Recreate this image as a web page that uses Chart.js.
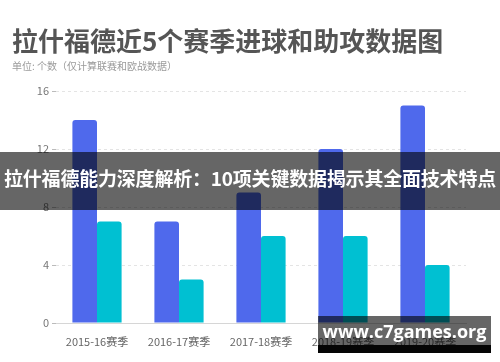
<!DOCTYPE html>
<html>
<head>
<meta charset="utf-8">
<script src="https://cdn.jsdelivr.net/npm/chart.js@4.4.1/dist/chart.umd.min.js"></script>
<style>
  body { margin: 0; background: #fff; font-family: "Noto Sans CJK SC", "Noto Sans", sans-serif; }
  #wrap { position: relative; width: 500px; height: 362px; overflow: hidden; }
  #chart { position: absolute; left: 0; top: 0; }
  #title { position: absolute; left: 12px; top: 22px; font-size: 26px; font-weight: bold; color: #555; line-height: 36px; white-space: nowrap; }
  #sub { position: absolute; left: 12px; top: 59px; font-size: 10px; color: #9a9a9a; line-height: 14px; white-space: nowrap; }
  #banner { position: absolute; left: 0; top: 152px; width: 500px; height: 58px; background: rgba(0,0,0,0.6);
            color: #fff; font-size: 19px; font-weight: bold; line-height: 52px; text-align: center; white-space: nowrap; letter-spacing: -0.2px; }
  #site { position: absolute; left: 318px; top: 316px; width: 173px; height: 29px; background: rgba(0,0,0,0.6);
          color: #fff; font-family: "Open Sans", sans-serif; font-size: 18px; font-weight: bold; line-height: 30px; text-align: center; }
  #siteBar { position: absolute; left: 318px; top: 345px; width: 173px; height: 8px; background: #050505; }
</style>
</head>
<body>
<div id="wrap">
  <canvas id="chart" width="500" height="362"></canvas>
  <div id="title">拉什福德近5个赛季进球和助攻数据图</div>
  <div id="sub">单位: 个数（仅计算联赛和欧战数据）</div>
  <div id="banner">拉什福德能力深度解析：10项关键数据揭示其全面技术特点</div>
  <div id="site">www.c7games.org</div>
  <div id="siteBar"></div>
</div>
<script>
// seasons along the x axis
var seasons = ['2015-16赛季', '2016-17赛季', '2017-18赛季', '2018-19赛季', '2019-20赛季'];
// goals (blue) and assists (cyan)
var goals = [14, 7, 9, 12, 15];
var assists = [7, 3, 6, 6, 4];
// y axis ticks
var yTicks = [0, 4, 8, 12, 16];

var ctx = document.getElementById('chart').getContext('2d');
var myChart = new Chart(ctx, {
    type: 'bar',
    data: {
        labels: seasons,
        datasets: [{
            label: '进球',
            data: goals,
            backgroundColor: '#4f69ec',
            borderRadius: 3,
            borderSkipped: 'bottom'
        }, {
            label: '助攻',
            data: assists,
            backgroundColor: '#00c0d2',
            borderRadius: 3,
            borderSkipped: 'bottom'
        }]
    },
    options: {
        responsive: false,
        animation: false,
        layout: { padding: { left: 0, right: 34, top: 91, bottom: 13 } },
        plugins: { legend: { display: false }, tooltip: { enabled: false } },
        datasets: { bar: { categoryPercentage: 0.6, barPercentage: 1.0 } },
        scales: {
            x: {
                grid: { display: false },
                border: { display: true, color: '#d6d6d6' },
                ticks: { color: '#666', font: { size: 11, family: 'Noto Sans CJK SC' }, padding: 4, maxRotation: 0 },
                afterFit: function(s) { s.height = 26; }
            },
            y: {
                min: 0,
                max: 16,
                afterBuildTicks: function(s) {
                    s.ticks = yTicks.map(function(v) { return { value: v }; });
                },
                grid: { color: '#e4e4e4', tickColor: '#bbb', tickLength: 4, drawTicks: true },
                border: { display: false, dash: [3, 3] },
                ticks: { color: '#777', font: { size: 11, family: 'Noto Sans CJK SC' }, padding: 3 },
                afterFit: function(s) { s.width = 56; }
            }
        }
    }
});
</script>
</body>
</html>
